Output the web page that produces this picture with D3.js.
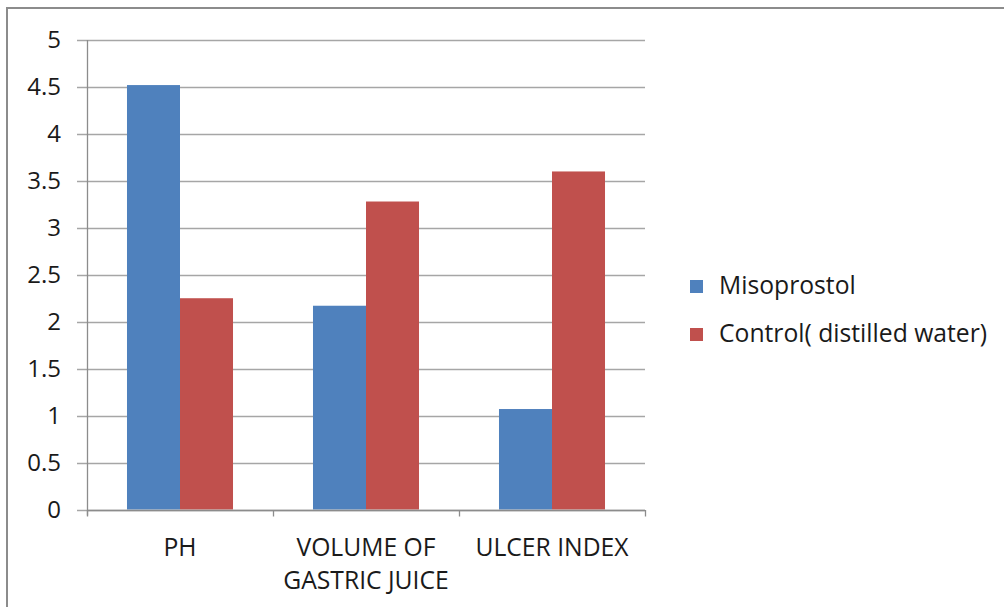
<!DOCTYPE html>
<html>
<head>
<meta charset="utf-8">
<script src="https://cdn.jsdelivr.net/npm/d3@7"></script>
<style>
  html, body { margin: 0; padding: 0; background: #fff; }
  svg { display: block; }
  text { font-family: "Open Sans", "Noto Sans", sans-serif; fill: #1a1a1a; }
</style>
</head>
<body>
<svg id="chart" width="1004" height="607"></svg>
<script>
// Data
const categories = [["PH"], ["VOLUME OF", "GASTRIC JUICE"], ["ULCER INDEX"]];
const seriesNames = ["Misoprostol", "Control( distilled water)"];
const misoprostol = [4.52, 2.17, 1.07];
const control = [2.25, 3.28, 3.60];
const yTicks = [0, 0.5, 1, 1.5, 2, 2.5, 3, 3.5, 4, 4.5, 5];
const colors = ["#4F81BD", "#C0504D"];

const svg = d3.select("#chart");
const tickFont = 24;
const labelFont = 24.7;

// Outer frame (left and top edges)
svg.append("path")
  .attr("d", "M7,607 V8 H1004")
  .attr("fill", "none")
  .attr("stroke", "#8c8c8c")
  .attr("stroke-width", 2);

const plot = { left: 87, right: 645, top: 40, bottom: 509.5 };

const y = d3.scaleLinear().domain([0, 5]).range([plot.bottom, plot.top]);
const x0 = d3.scaleBand()
  .domain(d3.range(categories.length))
  .range([plot.left, plot.right])
  .paddingInner(0.43)
  .paddingOuter(0.215);
const x1 = d3.scaleBand().domain([0, 1]).range([0, x0.bandwidth()]);

// Gridlines with small outside tick marks
const grid = svg.append("g");
grid.selectAll("line")
  .data(yTicks)
  .join("line")
  .attr("x1", plot.left - 10)
  .attr("x2", plot.right)
  .attr("y1", d => Math.round(y(d)) + 0.5)
  .attr("y2", d => Math.round(y(d)) + 0.5)
  .attr("stroke", "#a6a6a6")
  .attr("stroke-width", 1.3);

// Y axis labels
svg.append("g").selectAll("text")
  .data(yTicks)
  .join("text")
  .attr("x", 61)
  .attr("y", d => y(d))
  .attr("dy", "0.35em")
  .attr("text-anchor", "end")
  .attr("font-size", tickFont)
  .text(d => d3.format("")(d));

// Y axis line
svg.append("line")
  .attr("x1", plot.left + 0.5).attr("x2", plot.left + 0.5)
  .attr("y1", plot.top).attr("y2", plot.bottom + 6)
  .attr("stroke", "#8c8c8c").attr("stroke-width", 1.3);

// Category boundary ticks on the x axis
const catEdges = d3.range(categories.length + 1).map(i => plot.left + i * (plot.right - plot.left) / categories.length);
svg.append("g").selectAll("line")
  .data(catEdges)
  .join("line")
  .attr("x1", d => Math.round(d) + 0.5).attr("x2", d => Math.round(d) + 0.5)
  .attr("y1", Math.round(plot.bottom)).attr("y2", plot.bottom + 7)
  .attr("stroke", "#8c8c8c").attr("stroke-width", 1.3);

// Bars
const series = [misoprostol, control];
const groups = svg.append("g").selectAll("g")
  .data(categories.map((c, i) => i))
  .join("g")
  .attr("transform", i => `translate(${x0(i)},0)`);

groups.selectAll("rect")
  .data(i => series.map((s, k) => ({ k, v: s[i] })))
  .join("rect")
  .attr("x", d => x1(d.k))
  .attr("width", x1.bandwidth())
  .attr("y", d => y(d.v))
  .attr("height", d => y(0) - y(d.v))
  .attr("fill", d => colors[d.k]);

// X axis baseline drawn over bars
svg.append("line")
  .attr("x1", plot.left).attr("x2", plot.right)
  .attr("y1", Math.round(plot.bottom) + 0.5).attr("y2", Math.round(plot.bottom) + 0.5)
  .attr("stroke", "#8c8c8c").attr("stroke-width", 1.3);

// Category labels
const catLabels = svg.append("g").selectAll("text")
  .data(categories)
  .join("text")
  .attr("x", (c, i) => x0(i) + x0.bandwidth() / 2)
  .attr("y", 556)
  .attr("text-anchor", "middle")
  .attr("font-size", labelFont);
catLabels.selectAll("tspan")
  .data(c => c)
  .join("tspan")
  .attr("x", function () { return this.parentNode.getAttribute("x"); })
  .attr("dy", (d, j) => j === 0 ? 0 : 33)
  .text(d => d);

// Legend
const legend = svg.append("g").selectAll("g")
  .data(seriesNames)
  .join("g")
  .attr("transform", (d, i) => `translate(690,${280 + i * 48})`);
legend.append("rect")
  .attr("width", 13).attr("height", 13)
  .attr("fill", (d, i) => colors[i]);
legend.append("text")
  .attr("x", 29).attr("y", 14)
  .attr("font-size", labelFont)
  .text(d => d);
</script>
</body>
</html>
